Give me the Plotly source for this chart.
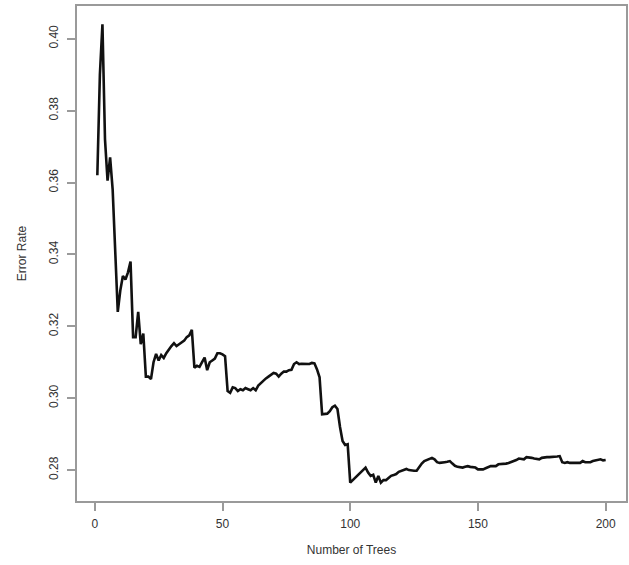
import plotly.graph_objects as go

trees = list(range(1, 201))

error_rate = [
    0.3620, 0.3900, 0.4040, 0.3720, 0.3605, 0.3670, 0.3580, 0.3420, 0.3240, 0.3300,
    0.3340, 0.3330, 0.3350, 0.3380, 0.3170, 0.3170, 0.3240, 0.3150, 0.3180, 0.3060,
    0.3060, 0.3053, 0.3100, 0.3123, 0.3105, 0.3120, 0.3112, 0.3125, 0.3137, 0.3145,
    0.3153, 0.3145, 0.3150, 0.3155, 0.3160, 0.3170, 0.3175, 0.3190, 0.3085, 0.3090,
    0.3087, 0.3100, 0.3113, 0.3078, 0.3100, 0.3105, 0.3110, 0.3125, 0.3125, 0.3122,
    0.3117, 0.3020, 0.3015, 0.3030, 0.3028, 0.3020, 0.3025, 0.3022, 0.3028, 0.3025,
    0.3022, 0.3028, 0.3022, 0.3035, 0.3042, 0.3048, 0.3055, 0.3060, 0.3065, 0.3070,
    0.3068, 0.3060, 0.3068, 0.3074, 0.3074, 0.3078, 0.3079, 0.3095, 0.3100, 0.3095,
    0.3096, 0.3095, 0.3096, 0.3095, 0.3098, 0.3097, 0.3080, 0.3058, 0.2955, 0.2956,
    0.2957, 0.2964, 0.2975, 0.2979, 0.2970, 0.2920, 0.2881, 0.2870, 0.2872, 0.2765,
    0.2772, 0.2779, 0.2786, 0.2793, 0.2800, 0.2807, 0.2793, 0.2784, 0.2787, 0.2765,
    0.2784, 0.2765, 0.2772, 0.2772, 0.2778, 0.2784, 0.2786, 0.2789, 0.2795, 0.2798,
    0.2800, 0.2803, 0.2800, 0.2798, 0.2798, 0.2798, 0.2809, 0.2818, 0.2825, 0.2828,
    0.2830, 0.2834, 0.2830, 0.2822, 0.2820, 0.2822, 0.2822, 0.2823, 0.2825, 0.2818,
    0.2812, 0.2809, 0.2808, 0.2807, 0.2809, 0.2811, 0.2809, 0.2808, 0.2807, 0.2802,
    0.2802, 0.2802, 0.2805, 0.2809, 0.2811, 0.2811, 0.2811, 0.2816, 0.2816, 0.2816,
    0.2818, 0.2820, 0.2822, 0.2825, 0.2828, 0.2832, 0.2832, 0.2830, 0.2836, 0.2836,
    0.2834, 0.2832, 0.2830, 0.2830, 0.2834, 0.2836, 0.2836, 0.2836, 0.2836, 0.2836,
    0.2838, 0.2839, 0.2822, 0.2820, 0.2822, 0.2820, 0.2820, 0.2822, 0.2822, 0.2820,
    0.2825, 0.2822, 0.2822, 0.2822, 0.2825, 0.2827, 0.2830, 0.2830, 0.2827, 0.2828,
]

x_ticks = [0, 50, 100, 150, 200]
y_ticks = [0.28, 0.30, 0.32, 0.34, 0.36, 0.38, 0.40]
y_tick_labels = ["0.28", "0.30", "0.32", "0.34", "0.36", "0.38", "0.40"]

x_title = "Number of Trees"
y_title = "Error Rate"

# R-style 4% padding
xmin, xmax = min(trees), max(trees)
ymin, ymax = min(error_rate), max(error_rate)
xpad = 0.04 * (xmax - xmin)
ypad = 0.04 * (ymax - ymin)

font_family = "Liberation Sans, Arial, sans-serif"
axis_color = "#9a9a9a"
text_color = "#333333"

fig = go.Figure()
fig.add_trace(go.Scatter(
    x=trees, y=error_rate, mode="lines",
    line=dict(color="#111111", width=2.6),
    hoverinfo="x+y", showlegend=False,
))

fig.update_layout(
    width=629, height=565,
    margin=dict(l=77, r=3, t=6, b=64),
    paper_bgcolor="white", plot_bgcolor="white",
    font=dict(family=font_family, size=12, color=text_color),
    xaxis=dict(
        range=[xmin - xpad, xmax + xpad],
        automargin=False,
        tickmode="array", tickvals=x_ticks, ticktext=[str(v) for v in x_ticks],
        ticklabelstandoff=3,
        ticks="outside", ticklen=8, tickwidth=1.5, tickcolor=axis_color,
        showline=True, linecolor=axis_color, linewidth=1.5, mirror=True,
        showgrid=False, zeroline=False,
        tickfont=dict(size=12, color=text_color),
        title=dict(text=x_title, standoff=15, font=dict(size=12, color=text_color)),
    ),
    yaxis=dict(
        range=[ymin - ypad, ymax + ypad],
        automargin=False,
        tickmode="array", tickvals=y_ticks, ticktext=y_tick_labels,
        tickangle=-90, ticklabelstandoff=4,
        ticks="outside", ticklen=8, tickwidth=1.5, tickcolor=axis_color,
        showline=True, linecolor=axis_color, linewidth=1.5, mirror=True,
        showgrid=False, zeroline=False,
        tickfont=dict(size=12, color=text_color),
        title=dict(text=y_title, standoff=18, font=dict(size=12, color=text_color)),
    ),
)

fig.write_html(
    "out.html",
    config={"displayModeBar": False},
    post_script="document.body.style.margin='0';",
)
